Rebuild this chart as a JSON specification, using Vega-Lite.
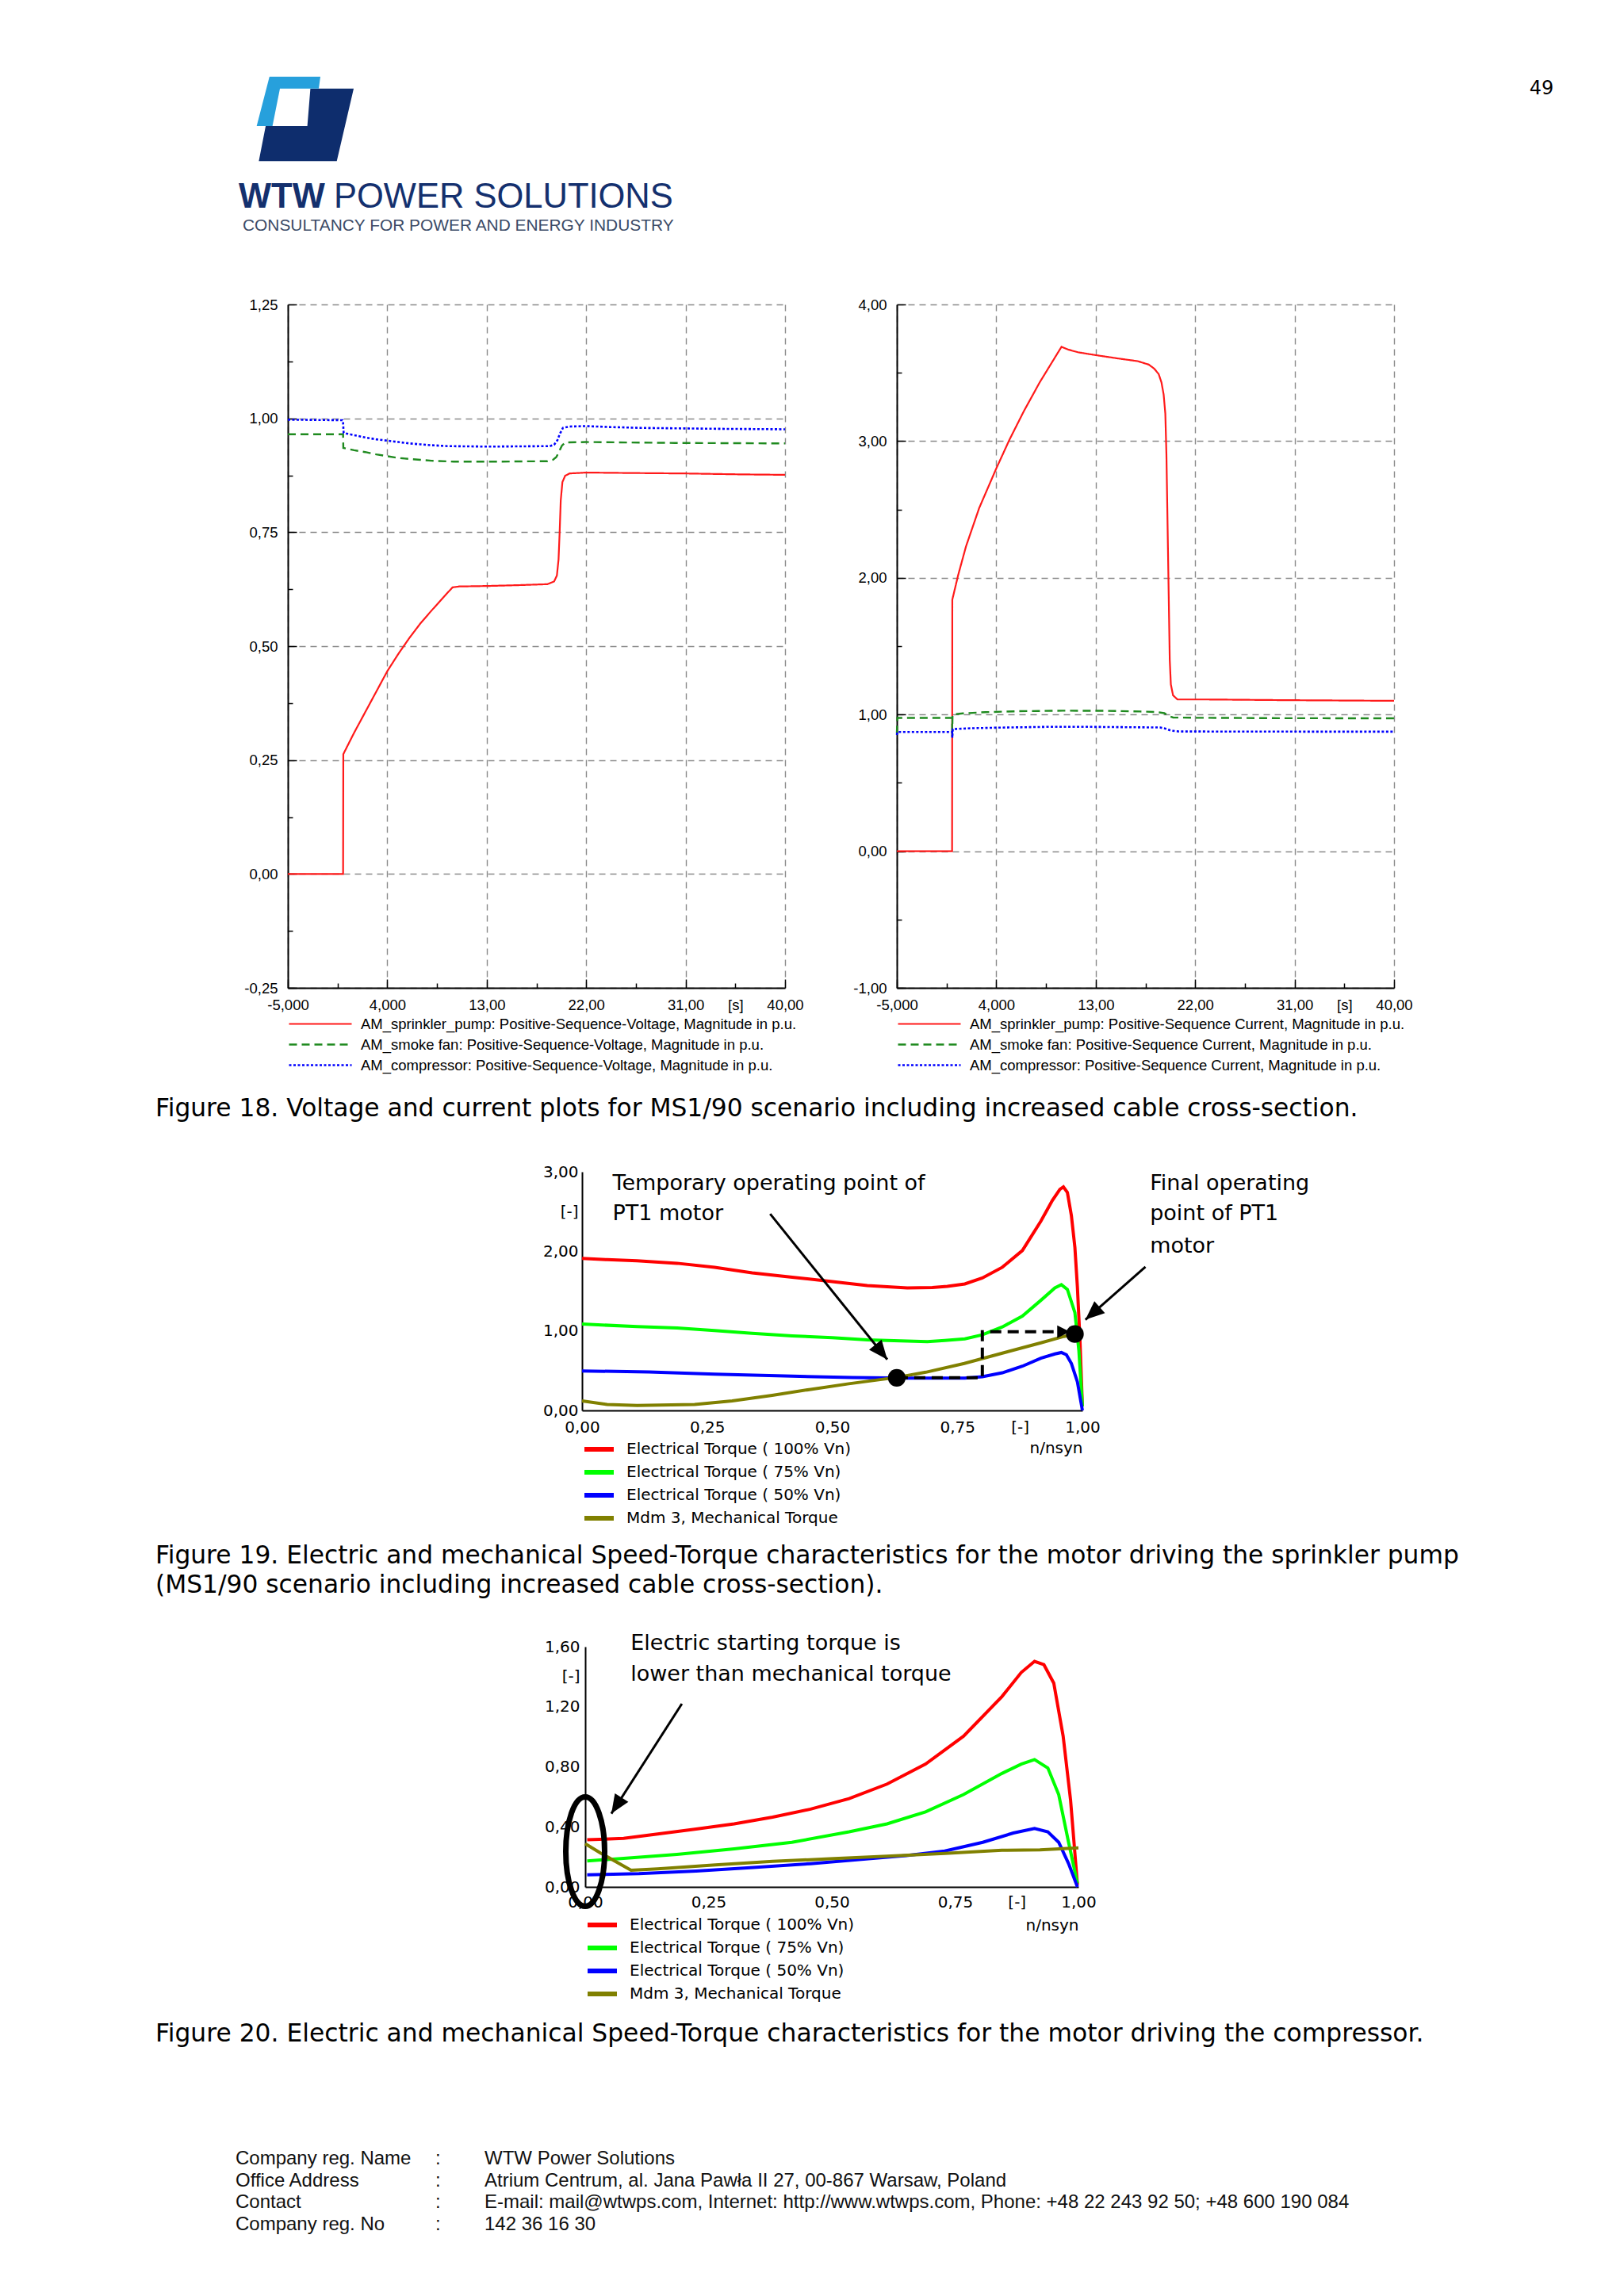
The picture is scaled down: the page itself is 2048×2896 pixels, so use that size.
{
  "$schema": "https://vega.github.io/schema/vega-lite/v6.json",
  "background": "white",
  "padding": 0,
  "autosize": {"type": "pad"},
  "bounds": "flush",
  "spacing": 0,
  "resolve": {"scale": {"color": "independent", "shape": "independent", "strokeDash": "independent", "strokeWidth": "independent"}, "legend": {"color": "independent", "shape": "independent", "strokeDash": "independent", "strokeWidth": "independent"}},
  "config": {"view": {"stroke": null}, "axis": {"labelColor": "#000"}, "legend": {"labelColor": "#000"}},
  "datasets": {
    "volt": [
      {"s":"p","t":-5,"v":0},{"s":"p","t":0,"v":0},{"s":"p","t":0.02,"v":0.263},{"s":"p","t":1,"v":0.31},{"s":"p","t":2,"v":0.355},{"s":"p","t":3,"v":0.4},{"s":"p","t":4,"v":0.445},{"s":"p","t":5,"v":0.483},{"s":"p","t":6,"v":0.518},{"s":"p","t":7,"v":0.55},{"s":"p","t":8,"v":0.578},{"s":"p","t":9,"v":0.605},{"s":"p","t":9.9,"v":0.629},{"s":"p","t":10.5,"v":0.631},{"s":"p","t":13,"v":0.632},{"s":"p","t":16,"v":0.634},{"s":"p","t":18.5,"v":0.636},{"s":"p","t":19.1,"v":0.642},{"s":"p","t":19.35,"v":0.655},{"s":"p","t":19.5,"v":0.69},{"s":"p","t":19.6,"v":0.75},{"s":"p","t":19.7,"v":0.82},{"s":"p","t":19.85,"v":0.86},{"s":"p","t":20.1,"v":0.874},{"s":"p","t":20.5,"v":0.879},{"s":"p","t":22,"v":0.881},{"s":"p","t":26,"v":0.88},{"s":"p","t":31,"v":0.879},{"s":"p","t":36,"v":0.877},{"s":"p","t":40,"v":0.876},
      {"s":"f","t":-5,"v":0.965},{"s":"f","t":0,"v":0.965},{"s":"f","t":0.02,"v":0.935},{"s":"f","t":1,"v":0.93},{"s":"f","t":2,"v":0.926},{"s":"f","t":3,"v":0.921},{"s":"f","t":4,"v":0.917},{"s":"f","t":5,"v":0.913},{"s":"f","t":6,"v":0.911},{"s":"f","t":7,"v":0.909},{"s":"f","t":8,"v":0.907},{"s":"f","t":10,"v":0.905},{"s":"f","t":14,"v":0.905},{"s":"f","t":18.5,"v":0.906},{"s":"f","t":19,"v":0.909},{"s":"f","t":19.3,"v":0.915},{"s":"f","t":19.55,"v":0.927},{"s":"f","t":19.8,"v":0.94},{"s":"f","t":20.1,"v":0.947},{"s":"f","t":22,"v":0.948},{"s":"f","t":30,"v":0.946},{"s":"f","t":40,"v":0.945},
      {"s":"c","t":-5,"v":0.997},{"s":"c","t":-0.05,"v":0.996},{"s":"c","t":0,"v":0.99},{"s":"c","t":0.05,"v":0.968},{"s":"c","t":1,"v":0.963},{"s":"c","t":2,"v":0.958},{"s":"c","t":3,"v":0.954},{"s":"c","t":4,"v":0.951},{"s":"c","t":5,"v":0.948},{"s":"c","t":6,"v":0.945},{"s":"c","t":7,"v":0.943},{"s":"c","t":8,"v":0.941},{"s":"c","t":9.5,"v":0.939},{"s":"c","t":13,"v":0.938},{"s":"c","t":18.7,"v":0.939},{"s":"c","t":19.1,"v":0.942},{"s":"c","t":19.4,"v":0.952},{"s":"c","t":19.6,"v":0.965},{"s":"c","t":19.9,"v":0.979},{"s":"c","t":20.5,"v":0.982},{"s":"c","t":22,"v":0.983},{"s":"c","t":24,"v":0.981},{"s":"c","t":27,"v":0.979},{"s":"c","t":34,"v":0.977},{"s":"c","t":40,"v":0.976}
    ],
    "curr": [
      {"s":"p","t":-5,"v":0},{"s":"p","t":0,"v":0},{"s":"p","t":0.02,"v":1.84},{"s":"p","t":0.55,"v":2.02},{"s":"p","t":1.26,"v":2.23},{"s":"p","t":2.45,"v":2.51},{"s":"p","t":4,"v":2.8},{"s":"p","t":5.19,"v":3.01},{"s":"p","t":6.5,"v":3.22},{"s":"p","t":7.93,"v":3.43},{"s":"p","t":9.9,"v":3.69},{"s":"p","t":10.5,"v":3.67},{"s":"p","t":11.4,"v":3.65},{"s":"p","t":12.93,"v":3.63},{"s":"p","t":15,"v":3.605},{"s":"p","t":16.8,"v":3.585},{"s":"p","t":17.8,"v":3.56},{"s":"p","t":18.3,"v":3.53},{"s":"p","t":18.7,"v":3.49},{"s":"p","t":18.95,"v":3.43},{"s":"p","t":19.15,"v":3.34},{"s":"p","t":19.3,"v":3.2},{"s":"p","t":19.4,"v":2.9},{"s":"p","t":19.5,"v":2.4},{"s":"p","t":19.6,"v":1.9},{"s":"p","t":19.7,"v":1.4},{"s":"p","t":19.8,"v":1.22},{"s":"p","t":20,"v":1.14},{"s":"p","t":20.4,"v":1.11},{"s":"p","t":23,"v":1.11},{"s":"p","t":30,"v":1.105},{"s":"p","t":40,"v":1.1},
      {"s":"f","t":-5,"v":0.86},{"s":"f","t":-4.95,"v":0.975},{"s":"f","t":0,"v":0.975},{"s":"f","t":0.01,"v":0.84},{"s":"f","t":0.04,"v":1.0},{"s":"f","t":1,"v":1.008},{"s":"f","t":3,"v":1.017},{"s":"f","t":6,"v":1.024},{"s":"f","t":10,"v":1.028},{"s":"f","t":14,"v":1.027},{"s":"f","t":17,"v":1.022},{"s":"f","t":18.5,"v":1.018},{"s":"f","t":19.2,"v":1.01},{"s":"f","t":19.6,"v":0.99},{"s":"f","t":20,"v":0.978},{"s":"f","t":22,"v":0.976},{"s":"f","t":30,"v":0.973},{"s":"f","t":40,"v":0.972},
      {"s":"c","t":-5,"v":0.85},{"s":"c","t":-4.95,"v":0.872},{"s":"c","t":0,"v":0.872},{"s":"c","t":0.02,"v":0.83},{"s":"c","t":0.06,"v":0.893},{"s":"c","t":2,"v":0.9},{"s":"c","t":5,"v":0.905},{"s":"c","t":9,"v":0.91},{"s":"c","t":12,"v":0.91},{"s":"c","t":16,"v":0.907},{"s":"c","t":18.8,"v":0.905},{"s":"c","t":19.3,"v":0.897},{"s":"c","t":19.8,"v":0.882},{"s":"c","t":20.5,"v":0.876},{"s":"c","t":25,"v":0.875},{"s":"c","t":40,"v":0.874}
    ],
    "f19": [
      {"s":"e100","x":0,"y":1.91},{"s":"e100","x":0.05,"y":1.895},{"s":"e100","x":0.11,"y":1.88},{"s":"e100","x":0.19,"y":1.85},{"s":"e100","x":0.265,"y":1.8},{"s":"e100","x":0.34,"y":1.73},{"s":"e100","x":0.42,"y":1.675},{"s":"e100","x":0.5,"y":1.62},{"s":"e100","x":0.57,"y":1.57},{"s":"e100","x":0.65,"y":1.54},{"s":"e100","x":0.7,"y":1.545},{"s":"e100","x":0.73,"y":1.56},{"s":"e100","x":0.765,"y":1.59},{"s":"e100","x":0.8,"y":1.665},{"s":"e100","x":0.84,"y":1.8},{"s":"e100","x":0.88,"y":2.01},{"s":"e100","x":0.917,"y":2.38},{"s":"e100","x":0.94,"y":2.64},{"s":"e100","x":0.955,"y":2.78},{"s":"e100","x":0.962,"y":2.81},{"s":"e100","x":0.97,"y":2.74},{"s":"e100","x":0.978,"y":2.45},{"s":"e100","x":0.985,"y":2.05},{"s":"e100","x":0.99,"y":1.55},{"s":"e100","x":0.995,"y":0.9},{"s":"e100","x":1.0,"y":0.05},
      {"s":"e75","x":0,"y":1.086},{"s":"e75","x":0.11,"y":1.053},{"s":"e75","x":0.19,"y":1.036},{"s":"e75","x":0.265,"y":1.003},{"s":"e75","x":0.34,"y":0.97},{"s":"e75","x":0.42,"y":0.937},{"s":"e75","x":0.5,"y":0.914},{"s":"e75","x":0.57,"y":0.887},{"s":"e75","x":0.65,"y":0.871},{"s":"e75","x":0.69,"y":0.864},{"s":"e75","x":0.725,"y":0.88},{"s":"e75","x":0.765,"y":0.9},{"s":"e75","x":0.8,"y":0.95},{"s":"e75","x":0.84,"y":1.05},{"s":"e75","x":0.88,"y":1.185},{"s":"e75","x":0.917,"y":1.384},{"s":"e75","x":0.945,"y":1.54},{"s":"e75","x":0.958,"y":1.58},{"s":"e75","x":0.97,"y":1.52},{"s":"e75","x":0.985,"y":1.23},{"s":"e75","x":0.993,"y":0.75},{"s":"e75","x":1.0,"y":0.05},
      {"s":"e50","x":0,"y":0.497},{"s":"e50","x":0.134,"y":0.483},{"s":"e50","x":0.265,"y":0.457},{"s":"e50","x":0.42,"y":0.43},{"s":"e50","x":0.54,"y":0.414},{"s":"e50","x":0.65,"y":0.407},{"s":"e50","x":0.765,"y":0.407},{"s":"e50","x":0.8,"y":0.424},{"s":"e50","x":0.84,"y":0.473},{"s":"e50","x":0.88,"y":0.556},{"s":"e50","x":0.917,"y":0.656},{"s":"e50","x":0.945,"y":0.71},{"s":"e50","x":0.958,"y":0.728},{"s":"e50","x":0.968,"y":0.7},{"s":"e50","x":0.978,"y":0.59},{"s":"e50","x":0.99,"y":0.36},{"s":"e50","x":1.0,"y":0.0},
      {"s":"mech","x":0,"y":0.12},{"s":"mech","x":0.05,"y":0.075},{"s":"mech","x":0.11,"y":0.063},{"s":"mech","x":0.225,"y":0.075},{"s":"mech","x":0.3,"y":0.12},{"s":"mech","x":0.38,"y":0.19},{"s":"mech","x":0.457,"y":0.265},{"s":"mech","x":0.533,"y":0.335},{"s":"mech","x":0.629,"y":0.415},{"s":"mech","x":0.687,"y":0.48},{"s":"mech","x":0.764,"y":0.59},{"s":"mech","x":0.84,"y":0.72},{"s":"mech","x":0.917,"y":0.85},{"s":"mech","x":0.963,"y":0.93},{"s":"mech","x":0.985,"y":0.96}
    ],
    "f20": [
      {"s":"e100","x":0.004,"y":0.314},{"s":"e100","x":0.078,"y":0.323},{"s":"e100","x":0.147,"y":0.353},{"s":"e100","x":0.225,"y":0.385},{"s":"e100","x":0.302,"y":0.42},{"s":"e100","x":0.38,"y":0.465},{"s":"e100","x":0.457,"y":0.518},{"s":"e100","x":0.535,"y":0.588},{"s":"e100","x":0.612,"y":0.685},{"s":"e100","x":0.69,"y":0.818},{"s":"e100","x":0.767,"y":1.004},{"s":"e100","x":0.845,"y":1.268},{"s":"e100","x":0.884,"y":1.428},{"s":"e100","x":0.911,"y":1.502},{"s":"e100","x":0.93,"y":1.48},{"s":"e100","x":0.95,"y":1.357},{"s":"e100","x":0.969,"y":1.004},{"s":"e100","x":0.984,"y":0.58},{"s":"e100","x":0.998,"y":0.014},
      {"s":"e75","x":0.004,"y":0.173},{"s":"e75","x":0.078,"y":0.19},{"s":"e75","x":0.186,"y":0.217},{"s":"e75","x":0.302,"y":0.253},{"s":"e75","x":0.419,"y":0.297},{"s":"e75","x":0.535,"y":0.367},{"s":"e75","x":0.612,"y":0.42},{"s":"e75","x":0.69,"y":0.5},{"s":"e75","x":0.767,"y":0.615},{"s":"e75","x":0.845,"y":0.756},{"s":"e75","x":0.884,"y":0.818},{"s":"e75","x":0.911,"y":0.848},{"s":"e75","x":0.938,"y":0.792},{"s":"e75","x":0.96,"y":0.615},{"s":"e75","x":0.98,"y":0.297},{"s":"e75","x":0.998,"y":0.023},
      {"s":"e50","x":0.004,"y":0.081},{"s":"e50","x":0.109,"y":0.088},{"s":"e50","x":0.225,"y":0.106},{"s":"e50","x":0.341,"y":0.129},{"s":"e50","x":0.457,"y":0.155},{"s":"e50","x":0.574,"y":0.187},{"s":"e50","x":0.651,"y":0.208},{"s":"e50","x":0.729,"y":0.239},{"s":"e50","x":0.806,"y":0.297},{"s":"e50","x":0.868,"y":0.359},{"s":"e50","x":0.911,"y":0.389},{"s":"e50","x":0.938,"y":0.367},{"s":"e50","x":0.96,"y":0.297},{"s":"e50","x":0.98,"y":0.155},{"s":"e50","x":0.998,"y":0.0},
      {"s":"mech","x":0,"y":0.288},{"s":"mech","x":0.031,"y":0.226},{"s":"mech","x":0.093,"y":0.111},{"s":"mech","x":0.147,"y":0.12},{"s":"mech","x":0.264,"y":0.147},{"s":"mech","x":0.38,"y":0.17},{"s":"mech","x":0.496,"y":0.187},{"s":"mech","x":0.612,"y":0.205},{"s":"mech","x":0.729,"y":0.223},{"s":"mech","x":0.845,"y":0.244},{"s":"mech","x":0.922,"y":0.247},{"s":"mech","x":1.0,"y":0.26}
    ]
  },
  "vconcat": [
    {
      "width": 2048, "height": 384,
      "layer": [
        {"data": {"values": [{"part": "navy"}, {"part": "light"}]},
         "mark": {"type": "point", "filled": true, "opacity": 1, "size": 14400, "x": 386.5, "y": 150, "strokeWidth": 0},
         "encoding": {
           "shape": {"field": "part", "type": "nominal", "scale": {"domain": ["navy", "light"], "range": ["M 0.082 -0.638 L 0.992 -0.638 L 0.637 0.888 L -1.002 0.888 L -0.858 0.15 L 0.018 0.15 Z", "M -0.778 -0.888 L 0.292 -0.888 L 0.258 -0.638 L -0.558 -0.638 L -0.715 0.15 L -1.047 0.15 Z"]}, "legend": null},
           "color": {"field": "part", "type": "nominal", "scale": {"domain": ["navy", "light"], "range": ["#0e2d6d", "#27a0dc"]}, "legend": null}
         }},
        {"data": {"values": [{"t": "WTW"}]},
         "mark": {"type": "text", "x": 301, "y": 262, "align": "left", "baseline": "alphabetic", "font": "Liberation Sans", "fontSize": 43.5, "fontWeight": "bold", "color": "#14306e"},
         "encoding": {"text": {"field": "t"}}},
        {"data": {"values": [{"t": "POWER SOLUTIONS"}]},
         "mark": {"type": "text", "x": 421, "y": 262, "align": "left", "baseline": "alphabetic", "font": "Liberation Sans", "fontSize": 43.5, "color": "#14306e"},
         "encoding": {"text": {"field": "t"}}},
        {"data": {"values": [{"t": "CONSULTANCY FOR POWER AND ENERGY INDUSTRY"}]},
         "mark": {"type": "text", "x": 306, "y": 291, "align": "left", "baseline": "alphabetic", "font": "Liberation Sans", "fontSize": 20.9, "color": "#3b4a66"},
         "encoding": {"text": {"field": "t"}}},
        {"data": {"values": [{"t": "49"}]},
         "mark": {"type": "text", "x": 1944, "y": 112, "align": "center", "baseline": "middle", "font": "DejaVu Sans", "fontSize": 24, "color": "#000"},
         "encoding": {"text": {"field": "t"}}}
      ]
    },
    {
      "width": 2048, "height": 862,
      "layer": [
        {
          "data": {"name": "volt"},
          "layer": [
            {"mark": {"type": "line", "strokeCap": "butt"},
             "encoding": {
               "x": {"field": "t", "type": "quantitative", "scale": {"domain": [-5, 40], "range": [363, 990], "nice": false, "zero": false},
                     "axis": {"orient": "bottom", "title": null, "values": [-5, 4, 13, 22, 31, 40],
                              "labelExpr": "datum.value==-5?'-5,000':datum.value==4?'4,000':datum.value==13?'13,00':datum.value==22?'22,00':datum.value==31?'31,00':'40,00'",
                              "labelFont": "Liberation Sans", "labelFontSize": 18.5, "labelFlush": false, "labelOverlap": false, "labelPadding": 23,
                              "domainColor": "#000", "domainWidth": 2, "tickColor": "#000", "tickWidth": 1.5, "tickSize": -11,
                              "grid": true, "gridColor": "#8a8a8a", "gridWidth": 1.4, "gridDash": [8, 6]}},
               "y": {"field": "v", "type": "quantitative", "scale": {"domain": [-0.25, 1.25], "nice": false, "zero": false},
                     "axis": {"orient": "left", "offset": -363, "title": null, "values": [-0.25, 0, 0.25, 0.5, 0.75, 1, 1.25],
                              "labelExpr": "(datum.value<0?'-':'')+replace(format(abs(datum.value),'.2f'),'.',',')",
                              "labelFont": "Liberation Sans", "labelFontSize": 18.5, "labelPadding": 24, "labelOverlap": false, "labelFlush": false,
                              "domainColor": "#000", "domainWidth": 2, "tickColor": "#000", "tickWidth": 1.5, "tickSize": -11,
                              "grid": true, "gridColor": "#8a8a8a", "gridWidth": 1.4, "gridDash": [8, 6]}},
               "color": {"field": "s", "type": "nominal", "scale": {"domain": ["p", "f", "c"], "range": ["#ff1a1a", "#1f8a1f", "#0000ff"]},
                         "legend": {"orient": "none", "legendX": 363, "legendY": 894.5, "direction": "vertical", "title": null, "symbolType": "stroke", "symbolSize": 6241, "symbolStrokeWidth": 2, "clipHeight": 26, "rowPadding": 0, "padding": 0, "labelFont": "Liberation Sans", "labelFontSize": 18.5, "labelOffset": 10, "labelLimit": 1000,
                                    "labelExpr": "datum.label=='p'?'AM_sprinkler_pump: Positive-Sequence-Voltage, Magnitude in p.u.':datum.label=='f'?'AM_smoke fan: Positive-Sequence-Voltage, Magnitude in p.u.':'AM_compressor: Positive-Sequence-Voltage, Magnitude in p.u.'"}},
               "strokeDash": {"field": "s", "type": "nominal", "scale": {"domain": ["p", "f", "c"], "range": [[1, 0], [10, 6], [3, 2.5]]},
                         "legend": {"orient": "none", "legendX": 363, "legendY": 894.5, "direction": "vertical", "title": null, "symbolType": "stroke", "symbolSize": 6241, "symbolStrokeWidth": 2, "clipHeight": 26, "rowPadding": 0, "padding": 0, "labelFont": "Liberation Sans", "labelFontSize": 18.5, "labelOffset": 10, "labelLimit": 1000,
                                    "labelExpr": "datum.label=='p'?'AM_sprinkler_pump: Positive-Sequence-Voltage, Magnitude in p.u.':datum.label=='f'?'AM_smoke fan: Positive-Sequence-Voltage, Magnitude in p.u.':'AM_compressor: Positive-Sequence-Voltage, Magnitude in p.u.'"}},
               "strokeWidth": {"field": "s", "type": "nominal", "scale": {"domain": ["p", "f", "c"], "range": [2.2, 2.6, 3.6]}, "legend": null}
             }},
            {"mark": {"type": "line", "opacity": 0},
             "encoding": {
               "x": {"field": "t", "type": "quantitative", "scale": {"domain": [-5, 40], "range": [363, 990], "nice": false, "zero": false},
                     "axis": {"orient": "bottom", "title": null, "values": [-0.5, 8.5, 17.5, 26.5, 35.5], "labelExpr": "datum.value==35.5?'[s]':''",
                              "labelFont": "Liberation Sans", "labelFontSize": 18.5, "labelFlush": false, "labelOverlap": false, "labelPadding": 18,
                              "domain": false, "grid": false, "tickColor": "#000", "tickWidth": 1.5, "tickSize": -6}},
               "y": {"field": "v", "type": "quantitative", "scale": {"domain": [-0.25, 1.25], "nice": false, "zero": false},
                     "axis": {"orient": "left", "offset": -363, "title": null, "values": [-0.125, 0.125, 0.375, 0.625, 0.875, 1.125], "labels": false,
                              "domain": false, "grid": false, "tickColor": "#000", "tickWidth": 1.5, "tickSize": -6}}
             }}
          ],
          "resolve": {"axis": {"x": "independent", "y": "independent"}}
        },
        {
          "data": {"name": "curr"},
          "layer": [
            {"mark": {"type": "line", "strokeCap": "butt"},
             "encoding": {
               "x": {"field": "t", "type": "quantitative", "scale": {"domain": [-5, 40], "range": [1131, 1758], "nice": false, "zero": false},
                     "axis": {"orient": "bottom", "title": null, "values": [-5, 4, 13, 22, 31, 40],
                              "labelExpr": "datum.value==-5?'-5,000':datum.value==4?'4,000':datum.value==13?'13,00':datum.value==22?'22,00':datum.value==31?'31,00':'40,00'",
                              "labelFont": "Liberation Sans", "labelFontSize": 18.5, "labelFlush": false, "labelOverlap": false, "labelPadding": 23,
                              "domainColor": "#000", "domainWidth": 2, "tickColor": "#000", "tickWidth": 1.5, "tickSize": -11,
                              "grid": true, "gridColor": "#8a8a8a", "gridWidth": 1.4, "gridDash": [8, 6]}},
               "y": {"field": "v", "type": "quantitative", "scale": {"domain": [-1, 4], "nice": false, "zero": false},
                     "axis": {"orient": "left", "offset": -1131, "title": null, "values": [-1, 0, 1, 2, 3, 4],
                              "labelExpr": "(datum.value<0?'-':'')+replace(format(abs(datum.value),'.2f'),'.',',')",
                              "labelFont": "Liberation Sans", "labelFontSize": 18.5, "labelPadding": 24, "labelOverlap": false, "labelFlush": false,
                              "domainColor": "#000", "domainWidth": 2, "tickColor": "#000", "tickWidth": 1.5, "tickSize": -11,
                              "grid": true, "gridColor": "#8a8a8a", "gridWidth": 1.4, "gridDash": [8, 6]}},
               "color": {"field": "s", "type": "nominal", "scale": {"domain": ["p", "f", "c"], "range": ["#ff1a1a", "#1f8a1f", "#0000ff"]},
                         "legend": {"orient": "none", "legendX": 1131, "legendY": 894.5, "direction": "vertical", "title": null, "symbolType": "stroke", "symbolSize": 6241, "symbolStrokeWidth": 2, "clipHeight": 26, "rowPadding": 0, "padding": 0, "labelFont": "Liberation Sans", "labelFontSize": 18.5, "labelOffset": 10, "labelLimit": 1000,
                                    "labelExpr": "datum.label=='p'?'AM_sprinkler_pump: Positive-Sequence Current, Magnitude in p.u.':datum.label=='f'?'AM_smoke fan: Positive-Sequence Current, Magnitude in p.u.':'AM_compressor: Positive-Sequence Current, Magnitude in p.u.'"}},
               "strokeDash": {"field": "s", "type": "nominal", "scale": {"domain": ["p", "f", "c"], "range": [[1, 0], [10, 6], [3, 2.5]]},
                         "legend": {"orient": "none", "legendX": 1131, "legendY": 894.5, "direction": "vertical", "title": null, "symbolType": "stroke", "symbolSize": 6241, "symbolStrokeWidth": 2, "clipHeight": 26, "rowPadding": 0, "padding": 0, "labelFont": "Liberation Sans", "labelFontSize": 18.5, "labelOffset": 10, "labelLimit": 1000,
                                    "labelExpr": "datum.label=='p'?'AM_sprinkler_pump: Positive-Sequence Current, Magnitude in p.u.':datum.label=='f'?'AM_smoke fan: Positive-Sequence Current, Magnitude in p.u.':'AM_compressor: Positive-Sequence Current, Magnitude in p.u.'"}},
               "strokeWidth": {"field": "s", "type": "nominal", "scale": {"domain": ["p", "f", "c"], "range": [2.2, 2.6, 3.6]}, "legend": null}
             }},
            {"mark": {"type": "line", "opacity": 0},
             "encoding": {
               "x": {"field": "t", "type": "quantitative", "scale": {"domain": [-5, 40], "range": [1131, 1758], "nice": false, "zero": false},
                     "axis": {"orient": "bottom", "title": null, "values": [-0.5, 8.5, 17.5, 26.5, 35.5], "labelExpr": "datum.value==35.5?'[s]':''",
                              "labelFont": "Liberation Sans", "labelFontSize": 18.5, "labelFlush": false, "labelOverlap": false, "labelPadding": 18,
                              "domain": false, "grid": false, "tickColor": "#000", "tickWidth": 1.5, "tickSize": -6}},
               "y": {"field": "v", "type": "quantitative", "scale": {"domain": [-1, 4], "nice": false, "zero": false},
                     "axis": {"orient": "left", "offset": -1131, "title": null, "values": [-0.5, 0.5, 1.5, 2.5, 3.5], "labels": false,
                              "domain": false, "grid": false, "tickColor": "#000", "tickWidth": 1.5, "tickSize": -6}}
             }}
          ],
          "resolve": {"axis": {"x": "independent", "y": "independent"}}
        }
      ],
      "resolve": {"scale": {"x": "independent", "y": "independent", "color": "independent", "strokeDash": "independent", "strokeWidth": "independent"}}
    },
    {
      "width": 2048, "height": 232,
      "data": {"values": [{"t": "Figure 18. Voltage and current plots for MS1/90 scenario including increased cable cross-section."}]},
      "mark": {"type": "text", "x": 196, "y": 153, "align": "left", "baseline": "middle", "font": "DejaVu Sans", "fontSize": 31.3, "color": "#000"},
      "encoding": {"text": {"field": "t"}}
    },
    {
      "width": 2048, "height": 301,
      "layer": [
        {"data": {"name": "f19"},
         "mark": {"type": "line", "strokeWidth": 4, "strokeCap": "butt"},
         "encoding": {
           "x": {"field": "x", "type": "quantitative", "scale": {"domain": [0, 1], "range": [734, 1365], "nice": false, "zero": false},
                 "axis": {"orient": "bottom", "values": [0, 0.25, 0.5, 0.75, 0.875, 1], "labelExpr": "datum.value==0.875?'[-]':replace(format(datum.value,'.2f'),'.',',')",
                          "ticks": false, "grid": false, "domainColor": "#000", "domainWidth": 2, "labelFont": "DejaVu Sans", "labelFontSize": 20, "labelPadding": 11, "labelFlush": false, "labelOverlap": false,
                          "title": "n/nsyn", "titleFont": "DejaVu Sans", "titleFontSize": 20, "titleFontWeight": "normal", "titleColor": "#000", "titleAlign": "right", "titleBaseline": "top", "titleX": 1365, "titleY": 37}},
           "y": {"field": "y", "type": "quantitative", "scale": {"domain": [0, 3], "nice": false, "zero": false},
                 "axis": {"orient": "left", "offset": -734, "values": [0, 1, 2, 2.5, 3], "labelExpr": "datum.value==2.5?'[-]':replace(format(datum.value,'.2f'),'.',',')",
                          "ticks": false, "grid": false, "domainColor": "#000", "domainWidth": 2, "labelFont": "DejaVu Sans", "labelFontSize": 20, "labelPadding": 5, "labelOverlap": false, "labelFlush": false, "title": null}},
           "color": {"field": "s", "type": "nominal", "scale": {"domain": ["e100", "e75", "e50", "mech"], "range": ["#ff0000", "#00ff00", "#0000ff", "#808000"]},
                     "legend": {"orient": "none", "legendX": 734, "legendY": 335.5, "direction": "vertical", "title": null, "symbolType": "stroke", "symbolSize": 1369, "symbolStrokeWidth": 6, "clipHeight": 29, "rowPadding": 0, "padding": 0, "labelFont": "DejaVu Sans", "labelFontSize": 20, "labelOffset": 13, "labelLimit": 1000,
                                "labelExpr": "datum.label=='e100'?'Electrical Torque ( 100% Vn)':datum.label=='e75'?'Electrical Torque ( 75% Vn)':datum.label=='e50'?'Electrical Torque ( 50% Vn)':'Mdm 3, Mechanical Torque'"}}
         }},
        {"data": {"values": [{"i": 0, "x": 0.629, "y": 0.41}, {"i": 1, "x": 0.8, "y": 0.41}, {"i": 2, "x": 0.8, "y": 0.99}, {"i": 3, "x": 0.955, "y": 0.99}]},
         "mark": {"type": "line", "color": "#000", "strokeWidth": 4, "strokeDash": [14, 8]},
         "encoding": {"x": {"field": "x", "type": "quantitative"}, "y": {"field": "y", "type": "quantitative"}, "order": {"field": "i", "type": "quantitative"}}},
        {"data": {"values": [{"a": 1, "i": 0, "x": 0.376, "y": 2.47}, {"a": 1, "i": 1, "x": 0.61, "y": 0.64}, {"a": 2, "i": 0, "x": 1.126, "y": 1.805}, {"a": 2, "i": 1, "x": 1.006, "y": 1.14}]},
         "mark": {"type": "line", "color": "#000", "strokeWidth": 3},
         "encoding": {"x": {"field": "x", "type": "quantitative"}, "y": {"field": "y", "type": "quantitative"}, "detail": {"field": "a", "type": "nominal"}, "order": {"field": "i", "type": "quantitative"}}},
        {"data": {"values": [{"x": 0.61, "y": 0.64}]},
         "mark": {"type": "point", "shape": "M 0 0 L -0.42 1 L 0.42 1 Z", "size": 2304, "angle": 141.2, "filled": true, "color": "#000", "opacity": 1, "strokeWidth": 0},
         "encoding": {"x": {"field": "x", "type": "quantitative"}, "y": {"field": "y", "type": "quantitative"}}},
        {"data": {"values": [{"x": 1.006, "y": 1.14}]},
         "mark": {"type": "point", "shape": "M 0 0 L -0.42 1 L 0.42 1 Z", "size": 2304, "angle": 228.6, "filled": true, "color": "#000", "opacity": 1, "strokeWidth": 0},
         "encoding": {"x": {"field": "x", "type": "quantitative"}, "y": {"field": "y", "type": "quantitative"}}},
        {"data": {"values": [{"x": 0.975, "y": 0.99}]},
         "mark": {"type": "point", "shape": "M 0 0 L -0.5 1 L 0.5 1 Z", "size": 1024, "angle": 90, "filled": true, "color": "#000", "opacity": 1, "strokeWidth": 0},
         "encoding": {"x": {"field": "x", "type": "quantitative"}, "y": {"field": "y", "type": "quantitative"}}},
        {"data": {"values": [{"x": 0.629, "y": 0.41}, {"x": 0.985, "y": 0.96}]},
         "mark": {"type": "point", "shape": "circle", "size": 500, "filled": true, "color": "#000", "opacity": 1},
         "encoding": {"x": {"field": "x", "type": "quantitative"}, "y": {"field": "y", "type": "quantitative"}}},
        {"data": {"values": [{"x": 0.061, "y": 2.855, "t": "Temporary operating point of"}, {"x": 0.061, "y": 2.468, "t": "PT1 motor"}, {"x": 1.135, "y": 2.855, "t": "Final operating"}, {"x": 1.135, "y": 2.468, "t": "point of PT1"}, {"x": 1.135, "y": 2.063, "t": "motor"}]},
         "mark": {"type": "text", "align": "left", "baseline": "middle", "font": "DejaVu Sans", "fontSize": 27, "color": "#000"},
         "encoding": {"x": {"field": "x", "type": "quantitative"}, "y": {"field": "y", "type": "quantitative"}, "text": {"field": "t"}}}
      ]
    },
    {
      "width": 2048, "height": 298,
      "layer": [
        {"data": {"values": [{"t": "Figure 19. Electric and mechanical Speed-Torque characteristics for the motor driving the sprinkler pump"}]},
         "mark": {"type": "text", "x": 196, "y": 184, "align": "left", "baseline": "middle", "font": "DejaVu Sans", "fontSize": 31.3, "color": "#000"},
         "encoding": {"text": {"field": "t"}}},
        {"data": {"values": [{"t": "(MS1/90 scenario including increased cable cross-section)."}]},
         "mark": {"type": "text", "x": 196, "y": 221, "align": "left", "baseline": "middle", "font": "DejaVu Sans", "fontSize": 31.3, "color": "#000"},
         "encoding": {"text": {"field": "t"}}}
      ]
    },
    {
      "width": 2048, "height": 303,
      "layer": [
        {"data": {"name": "f20"},
         "mark": {"type": "line", "strokeWidth": 4, "strokeCap": "butt"},
         "encoding": {
           "x": {"field": "x", "type": "quantitative", "scale": {"domain": [0, 1], "range": [738, 1360], "nice": false, "zero": false},
                 "axis": {"orient": "bottom", "values": [0, 0.25, 0.5, 0.75, 0.875, 1], "labelExpr": "datum.value==0.875?'[-]':replace(format(datum.value,'.2f'),'.',',')",
                          "ticks": false, "grid": false, "domainColor": "#000", "domainWidth": 2, "labelFont": "DejaVu Sans", "labelFontSize": 20, "labelPadding": 9.5, "labelFlush": false, "labelOverlap": false,
                          "title": "n/nsyn", "titleFont": "DejaVu Sans", "titleFontSize": 20, "titleFontWeight": "normal", "titleColor": "#000", "titleAlign": "right", "titleBaseline": "top", "titleX": 1360, "titleY": 38}},
           "y": {"field": "y", "type": "quantitative", "scale": {"domain": [0, 1.6], "nice": false, "zero": false},
                 "axis": {"orient": "left", "offset": -738, "values": [0, 0.4, 0.8, 1.2, 1.4, 1.6], "labelExpr": "datum.value==1.4?'[-]':replace(format(datum.value,'.2f'),'.',',')",
                          "ticks": false, "grid": false, "domainColor": "#000", "domainWidth": 2, "labelFont": "DejaVu Sans", "labelFontSize": 20, "labelPadding": 7, "labelOverlap": false, "labelFlush": false, "title": null}},
           "color": {"field": "s", "type": "nominal", "scale": {"domain": ["e100", "e75", "e50", "mech"], "range": ["#ff0000", "#00ff00", "#0000ff", "#808000"]},
                     "legend": {"orient": "none", "legendX": 738, "legendY": 336.5, "direction": "vertical", "title": null, "symbolType": "stroke", "symbolSize": 1369, "symbolStrokeWidth": 6, "clipHeight": 29, "rowPadding": 0, "padding": 0, "labelFont": "DejaVu Sans", "labelFontSize": 20, "labelOffset": 13, "labelLimit": 1000,
                                "labelExpr": "datum.label=='e100'?'Electrical Torque ( 100% Vn)':datum.label=='e75'?'Electrical Torque ( 75% Vn)':datum.label=='e50'?'Electrical Torque ( 50% Vn)':'Mdm 3, Mechanical Torque'"}}
         }},
        {"data": {"values": [{"x": 0, "y": 0.235}]},
         "mark": {"type": "point", "shape": "M 0.355 0 C 0.355 0.552 0.196 1 0 1 C -0.196 1 -0.355 0.552 -0.355 0 C -0.355 -0.552 -0.196 -1 0 -1 C 0.196 -1 0.355 -0.552 0.355 0 Z", "size": 19044, "filled": false, "color": "#000", "strokeWidth": 7, "opacity": 1},
         "encoding": {"x": {"field": "x", "type": "quantitative"}, "y": {"field": "y", "type": "quantitative"}}},
        {"data": {"values": [{"i": 0, "x": 0.196, "y": 1.22}, {"i": 1, "x": 0.053, "y": 0.488}]},
         "mark": {"type": "line", "color": "#000", "strokeWidth": 3},
         "encoding": {"x": {"field": "x", "type": "quantitative"}, "y": {"field": "y", "type": "quantitative"}, "order": {"field": "i", "type": "quantitative"}}},
        {"data": {"values": [{"x": 0.053, "y": 0.488}]},
         "mark": {"type": "point", "shape": "M 0 0 L -0.42 1 L 0.42 1 Z", "size": 2304, "angle": 212.7, "filled": true, "color": "#000", "opacity": 1, "strokeWidth": 0},
         "encoding": {"x": {"field": "x", "type": "quantitative"}, "y": {"field": "y", "type": "quantitative"}}},
        {"data": {"values": [{"x": 0.092, "y": 1.62, "t": "Electric starting torque is"}, {"x": 0.092, "y": 1.415, "t": "lower than mechanical torque"}]},
         "mark": {"type": "text", "align": "left", "baseline": "middle", "font": "DejaVu Sans", "fontSize": 27, "color": "#000"},
         "encoding": {"x": {"field": "x", "type": "quantitative"}, "y": {"field": "y", "type": "quantitative"}, "text": {"field": "t"}}}
      ]
    },
    {
      "width": 2048, "height": 516,
      "layer": [
        {"data": {"values": [{"t": "Figure 20. Electric and mechanical Speed-Torque characteristics for the motor driving the compressor."}]},
         "mark": {"type": "text", "x": 196, "y": 186, "align": "left", "baseline": "middle", "font": "DejaVu Sans", "fontSize": 31.35, "color": "#000"},
         "encoding": {"text": {"field": "t"}}},
        {"data": {"values": [{"t": "Company reg. Name\nOffice Address\nContact\nCompany reg. No"}]},
         "mark": {"type": "text", "x": 297, "y": 331, "align": "left", "baseline": "top", "lineBreak": "\n", "lineHeight": 27.7, "font": "Liberation Sans", "fontSize": 24, "color": "#111"},
         "encoding": {"text": {"field": "t"}}},
        {"data": {"values": [{"t": ":\n:\n:\n:"}]},
         "mark": {"type": "text", "x": 549, "y": 331, "align": "left", "baseline": "top", "lineBreak": "\n", "lineHeight": 27.7, "font": "Liberation Sans", "fontSize": 24, "color": "#111"},
         "encoding": {"text": {"field": "t"}}},
        {"data": {"values": [{"t": "WTW Power Solutions\nAtrium Centrum, al. Jana Pawła II 27, 00-867 Warsaw, Poland\nE-mail: mail@wtwps.com, Internet: http://www.wtwps.com, Phone: +48 22 243 92 50; +48 600 190 084\n142 36 16 30"}]},
         "mark": {"type": "text", "x": 611, "y": 331, "align": "left", "baseline": "top", "lineBreak": "\n", "lineHeight": 27.7, "font": "Liberation Sans", "fontSize": 24, "color": "#111"},
         "encoding": {"text": {"field": "t"}}}
      ]
    }
  ]
}
